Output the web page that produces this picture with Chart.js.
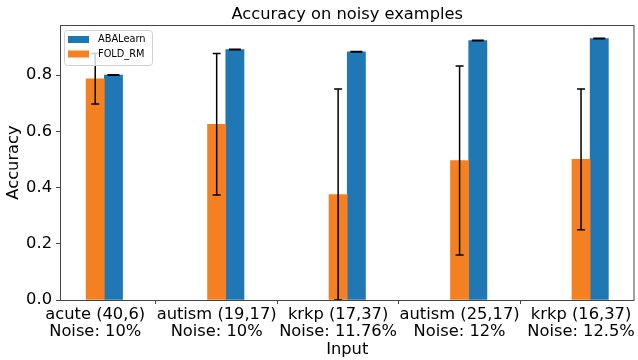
<!DOCTYPE html>
<html>
<head>
<meta charset="utf-8">
<script src="https://cdn.jsdelivr.net/npm/chart.js@4/dist/chart.umd.min.js"></script>
<style>
  html, body { margin: 0; padding: 0; background: #fff; }
  #wrap { width: 638px; height: 360px; }
</style>
</head>
<body>
<div id="wrap"><canvas id="chart" width="638" height="360"></canvas></div>
<script>
// Datasets and their (noise level) descriptions
const categories = [
  ['acute (40,6)', 'Noise: 10%'],
  ['autism (19,17)', 'Noise: 10%'],
  ['krkp (17,37)', 'Noise: 11.76%'],
  ['autism (25,17)', 'Noise: 12%'],
  ['krkp (16,37)', 'Noise: 12.5%']
];

// Mean accuracy and standard deviation per method
const abaLearn    = [0.800, 0.891, 0.883, 0.923, 0.930];
const abaLearnErr = [0.001, 0.001, 0.001, 0.001, 0.001];
const foldRm      = [0.787, 0.625, 0.375, 0.496, 0.500];
const foldRmErr   = [0.090, 0.252, 0.375, 0.336, 0.250];

const yTicks = [0.0, 0.2, 0.4, 0.6, 0.8];

const FONT = 'DejaVu Sans';
const BLUE = '#1f77b4';
const ORANGE = '#f48022';
const barWidth = 0.15;            // bar width in category units
const yMax = 0.978;
const xMin = -0.29, xMax = 4.44;

const extras = {
  id: 'extras',
  afterDatasetsDraw(chart) {
    const { ctx, chartArea: a, scales: { y } } = chart;
    ctx.save();

    // error bars
    chart.data.datasets.forEach((ds, di) => {
      const meta = chart.getDatasetMeta(di);
      const cap = ds.capHalf;
      meta.data.forEach((bar, i) => {
        const v = ds.data[i].y, e = ds.errors[i];
        const px = bar.x;
        const top = y.getPixelForValue(v + e);
        const bot = y.getPixelForValue(Math.max(v - e, 0));
        ctx.strokeStyle = '#000';
        ctx.lineWidth = 1.5;
        ctx.beginPath();
        ctx.moveTo(px, top); ctx.lineTo(px, bot);
        ctx.moveTo(px - cap, top); ctx.lineTo(px + cap, top);
        ctx.moveTo(px - cap, bot); ctx.lineTo(px + cap, bot);
        ctx.stroke();
      });
    });

    // axes frame
    ctx.strokeStyle = '#444';
    ctx.lineWidth = 1;
    ctx.strokeRect(a.left + 0.5, a.top + 0.5, a.right - a.left - 1, a.bottom - a.top);

    // legend
    const lx = a.left + 4.5, ly = a.top + 5.5, lw = 88, lh = 35;
    ctx.beginPath();
    ctx.roundRect(lx, ly, lw, lh, 3);
    ctx.fillStyle = 'rgba(255,255,255,0.8)';
    ctx.fill();
    ctx.strokeStyle = '#d0d0d0';
    ctx.stroke();
    const entries = [
      { label: chart.data.datasets[1].label, color: chart.data.datasets[1].backgroundColor },
      { label: chart.data.datasets[0].label, color: chart.data.datasets[0].backgroundColor }
    ];
    ctx.font = '9.8px "' + FONT + '"';
    ctx.textBaseline = 'middle';
    ctx.textAlign = 'left';
    entries.forEach((en, k) => {
      const cy = a.top + 14.5 + k * 14.5;
      ctx.fillStyle = en.color;
      ctx.fillRect(a.left + 8, cy - 3.5, 21, 7);
      ctx.fillStyle = '#000';
      ctx.fillText(en.label, a.left + 38, cy);
    });

    ctx.restore();
  },
  afterDraw(chart) {
    const { ctx, chartArea: a } = chart;
    ctx.save();
    ctx.font = '16.3px "' + FONT + '"';
    ctx.fillStyle = '#000';
    ctx.textAlign = 'center';
    ctx.textBaseline = 'alphabetic';
    ctx.fillText('Accuracy on noisy examples', (a.left + a.right) / 2, 19);
    ctx.restore();
  }
};

new Chart(document.getElementById('chart'), {
  type: 'bar',
  data: {
    datasets: [
      {
        label: 'FOLD_RM',
        data: foldRm.map((v, i) => ({ x: i, y: v })),
        errors: foldRmErr,
        capHalf: 4,
        backgroundColor: ORANGE,
        borderWidth: 0
      },
      {
        label: 'ABALearn',
        data: abaLearn.map((v, i) => ({ x: i + barWidth, y: v })),
        errors: abaLearnErr,
        capHalf: 6,
        backgroundColor: BLUE,
        borderWidth: 0
      }
    ]
  },
  options: {
    responsive: false,
    animation: false,
    devicePixelRatio: 1,
    grouped: false,
    categoryPercentage: 1,
    barPercentage: 1,
    layout: { padding: { top: 25, right: 2, left: 0, bottom: 0 } },
    plugins: {
      legend: { display: false },
      title: { display: false },
      tooltip: { enabled: false }
    },
    scales: {
      x: {
        type: 'linear',
        min: xMin,
        max: xMax,
        offset: false,
        afterBuildTicks: s => { s.ticks = categories.map((_, i) => ({ value: i })); },
        afterFit: s => { s.height = 60; },
        ticks: {
          callback: v => categories[Math.round(v)],
          color: '#000',
          font: { family: FONT, size: 16.3, lineHeight: '16.5px' },
          maxRotation: 0,
          autoSkip: false,
          padding: 3
        },
        grid: { drawOnChartArea: false, drawTicks: true, tickLength: 4, color: '#444' },
        border: { display: false },
        title: {
          display: true,
          text: 'Input',
          color: '#000',
          font: { family: FONT, size: 16.3 },
          padding: 0
        }
      },
      y: {
        min: 0,
        max: yMax,
        afterBuildTicks: s => { s.ticks = yTicks.map(v => ({ value: v })); },
        afterFit: s => { s.width = 60; },
        ticks: {
          callback: v => Number(v).toFixed(1),
          color: '#000',
          font: { family: FONT, size: 16.3 },
          padding: 4
        },
        grid: { drawOnChartArea: false, drawTicks: true, tickLength: 4, color: '#444' },
        border: { display: false },
        title: {
          display: true,
          text: 'Accuracy',
          color: '#000',
          font: { family: FONT, size: 16.3 },
          padding: { top: 4, bottom: 0 }
        }
      }
    }
  },
  plugins: [extras]
});
</script>
</body>
</html>
